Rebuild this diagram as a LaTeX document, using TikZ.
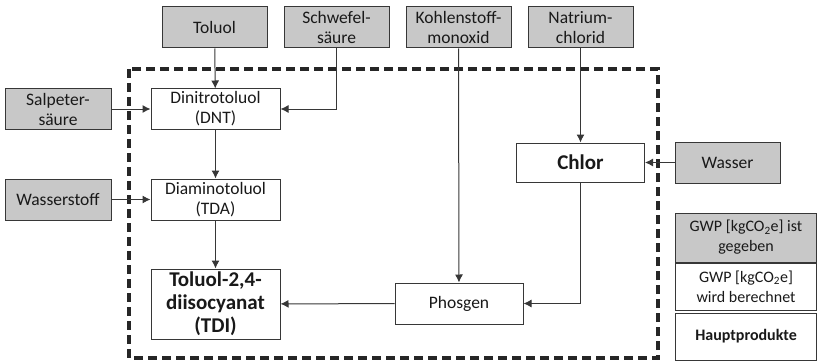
\documentclass[tikz,border=0pt]{standalone}
\usepackage{fontspec}
\setmainfont{Carlito}
\usetikzlibrary{arrows.meta}
\definecolor{boxgrey}{RGB}{200,200,200}
\definecolor{linegrey}{RGB}{55,55,55}
\tikzset{
  input/.style={draw=linegrey,fill=boxgrey,line width=1pt,align=center,inner sep=0pt,
    minimum width=105pt,minimum height=41pt,font=\fontsize{17.5}{20}\selectfont},
  process/.style={draw=linegrey,fill=white,line width=1pt,align=center,inner sep=0pt,
    minimum width=129pt,minimum height=41pt,font=\fontsize{17.5}{20}\selectfont},
  legendbox/.style={draw=linegrey,line width=1pt,align=center,inner sep=0pt,
    minimum width=141pt,minimum height=47pt,font=\fontsize{16}{20}\selectfont},
  flow/.style={-{Latex[length=8pt,width=8pt]},line width=1pt,draw=linegrey}
}
\begin{document}
\begin{tikzpicture}[x=1pt,y=-1pt,text=black!90]
\useasboundingbox (0,0) rectangle (817,361);
\draw[line width=3.2pt,dash pattern=on 9pt off 5pt,draw=black!85] (129,69) rectangle (658,358);
\node[input] (toluol) at (214.5,27.5) {Toluol};
\node[input] (schwefel) at (336.5,27.5) {Schwefel-\\säure};
\node[input] (kohlen) at (458.5,27.5) {Kohlenstoff-\\monoxid};
\node[input] (natrium) at (580.5,27.5) {Natrium-\\chlorid};
\node[input,minimum width=106pt,minimum height=40pt] (salpeter) at (58,109) {Salpeter-\\säure};
\node[input,minimum width=106pt] (wasserstoff) at (58,199.5) {Wasserstoff};
\node[input] (wasser) at (727.5,162.5) {Wasser};
\node[process,minimum height=40pt] (dnt) at (215.5,109) {Dinitrotoluol\\(DNT)};
\node[process] (tda) at (215.5,199.5) {Diaminotoluol\\(TDA)};
\node[process,minimum height=70pt,font=\fontsize{21}{23}\selectfont\bfseries] (tdi) at (215.5,304) {Toluol-2,4-\\diisocyanat\\(TDI)};
\node[process,minimum width=128pt] (phosgen) at (459,303.5) {Phosgen};
\node[process,minimum width=128pt,minimum height=39pt,font=\fontsize{21}{23}\selectfont\bfseries] (chlor) at (580.5,162.5) {Chlor};
\node[legendbox,fill=boxgrey,minimum height=49pt] (lgiven) at (746,237.5) {GWP [kgCO\textsubscript{2}e] ist\\gegeben};
\node[legendbox,fill=white] (lcalc) at (746,286.5) {GWP [kgCO\textsubscript{2}e]\\wird berechnet};
\node[legendbox,fill=white,font=\fontsize{16}{20}\selectfont\bfseries] (lmain) at (746,336.5) {Hauptprodukte};
\draw[flow] (toluol) -- (dnt);
\draw[flow] (schwefel.south) |- (dnt.east);
\draw[flow] (salpeter) -- (dnt);
\draw[flow] (dnt) -- (tda);
\draw[flow] (wasserstoff) -- (tda);
\draw[flow] (tda) -- (tdi);
\draw[flow] (kohlen) -- (phosgen);
\draw[flow] (natrium) -- (chlor);
\draw[flow] (wasser) -- (chlor);
\draw[flow] (chlor.south) |- (phosgen.east);
\draw[flow] (phosgen) -- (tdi);
\end{tikzpicture}
\end{document}
